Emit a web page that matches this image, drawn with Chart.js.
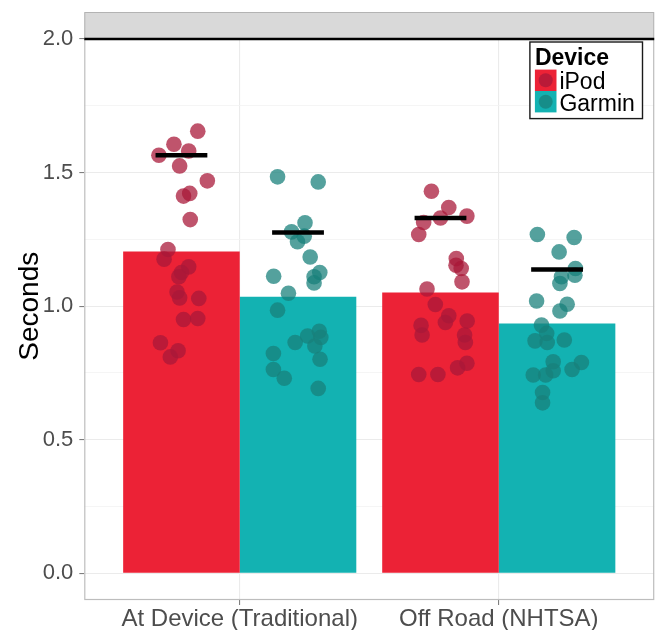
<!DOCTYPE html>
<html><head><meta charset="utf-8">
<script src="https://cdn.jsdelivr.net/npm/chart.js@4.4.1/dist/chart.umd.min.js"></script>
<style>html,body{margin:0;padding:0;background:#fff;}canvas{display:block;}</style>
</head><body>
<canvas id="c" width="662" height="630"></canvas>
<script>
// ---------- data ----------
const categories = ['At Device (Traditional)', 'Off Road (NHTSA)'];
const devices = ['iPod', 'Garmin'];
const barIpod = [1.205, 1.051];
const barGarmin = [1.035, 0.935];
const markIpod = [1.565, 1.330];
const markGarmin = [1.276, 1.137];
const refLine = 2.0;
const yMajorTicks = [0, 0.5, 1.0, 1.5, 2.0];
const yMinorTicks = [0.25, 0.75, 1.25, 1.75];
const yTitle = 'Seconds';
const legendTitle = 'Device';

// individual participants (seconds) and their horizontal jitter (category units)
const ipodAtDevice = [1.655,1.606,1.581,1.565,1.525,1.469,1.422,1.412,1.324,1.212,1.176,1.147,1.126,1.110,1.053,1.031,1.029,0.950,0.954,0.863,0.833,0.810];
const ipodAtDeviceJit = [0.063,-0.029,0.028,-0.087,-0.007,0.100,0.032,0.008,0.034,-0.052,-0.067,0.028,0.000,-0.010,-0.017,-0.007,0.067,0.008,0.063,-0.081,-0.013,-0.043];
const garminAtDevice = [1.484,1.465,1.312,1.278,1.262,1.241,1.184,1.126,1.112,1.110,1.087,1.048,0.985,0.906,0.888,0.883,0.864,0.851,0.823,0.801,0.763,0.730,0.692];
const garminAtDeviceJit = [-0.079,0.078,0.027,-0.025,0.024,-0.002,0.047,0.084,-0.094,0.062,0.062,-0.037,-0.079,0.082,0.037,0.088,-0.011,0.065,-0.095,0.085,-0.095,-0.053,0.078];
const ipodOffRoad = [1.430,1.369,1.330,1.337,1.313,1.268,1.178,1.153,1.141,1.091,1.064,1.006,0.964,0.939,0.944,0.928,0.892,0.892,0.864,0.786,0.769,0.744,0.744];
const ipodOffRoadJit = [-0.035,0.032,0.000,0.102,-0.065,-0.084,0.061,0.060,0.080,0.083,-0.052,-0.020,0.032,0.019,0.103,-0.075,-0.071,0.093,0.096,0.102,0.066,-0.084,-0.010];
const garminOffRoad = [1.268,1.257,1.203,1.141,1.116,1.110,1.085,1.019,1.007,0.982,0.929,0.898,0.870,0.864,0.873,0.792,0.789,0.763,0.758,0.742,0.742,0.677,0.638];
const garminOffRoadJit = [-0.076,0.066,0.008,0.071,0.069,0.017,0.011,-0.079,0.039,0.011,-0.060,-0.040,-0.085,-0.038,0.028,-0.015,0.094,0.058,-0.015,-0.092,-0.044,-0.056,-0.056];

// ---------- styles ----------
const FONT = "'Liberation Sans', Arial, Helvetica, sans-serif";
const barColors = ['rgb(236,34,54)', 'rgb(19,178,178)'];
const pointColors = ['rgba(168,24,56,0.74)', 'rgba(24,128,123,0.74)'];
const dodge = 0.225;
const markHalf = 0.1;

function center(cat, dev) { return cat + 1 + (dev === 0 ? -dodge : dodge); }
function pts(vals, jit, cat, dev) { return vals.map((v, i) => ({x: center(cat, dev) + jit[i], y: v})); }
function seg(y, cat, dev) { const c = center(cat, dev); return [{x: c - markHalf, y}, {x: c + markHalf, y}]; }

const datasets = [];
datasets.push({type:'bar', label:devices[0], data: categories.map((c,i)=>({x:i+1,y:barIpod[i]})), backgroundColor:barColors[0], order:4, grouped:true, categoryPercentage:0.9, barPercentage:1.0});
datasets.push({type:'bar', label:devices[1], data: categories.map((c,i)=>({x:i+1,y:barGarmin[i]})), backgroundColor:barColors[1], order:4, grouped:true, categoryPercentage:0.9, barPercentage:1.0});
const pointSets = [[ipodAtDevice, ipodAtDeviceJit, 0, 0],[garminAtDevice, garminAtDeviceJit, 0, 1],[ipodOffRoad, ipodOffRoadJit, 1, 0],[garminOffRoad, garminOffRoadJit, 1, 1]];
pointSets.forEach(([v,j,c,d]) => datasets.push({type:'scatter', data:pts(v,j,c,d), backgroundColor:pointColors[d], borderWidth:0, pointRadius:7.8, pointHoverRadius:7.8, order:3}));
[[markIpod,0],[markGarmin,1]].forEach(([arr,d]) => arr.forEach((y,c) => datasets.push({type:'line', data:seg(y,c,d), borderColor:'#000', borderWidth:4.5, pointRadius:0, borderCapStyle:'butt', order:2, clip:false})));
datasets.push({type:'line', data:[{x:0.4,y:refLine},{x:2.6,y:refLine}], borderColor:'#000', borderWidth:2.6, pointRadius:0, order:1, clip:false});

const yTicksAll = yMajorTicks.concat(yMinorTicks).sort((a,b)=>a-b);
const isMajor = v => yMajorTicks.some(t => Math.abs(t - v) < 1e-9);

const decor = {
  id: 'decor',
  beforeDatasetsDraw(chart) {
    const {ctx, chartArea: a} = chart;
    ctx.save();
    ctx.fillStyle = '#d9d9d9';
    ctx.fillRect(a.left, a.top - 26.5, a.right - a.left, 26.5);
    ctx.strokeStyle = '#b3b3b3'; ctx.lineWidth = 1;
    ctx.strokeRect(a.left + 0.5, a.top - 26.5, a.right - a.left - 1, 26.5);
    ctx.strokeStyle = '#bdbdbd'; ctx.lineWidth = 1.2;
    ctx.strokeRect(a.left + 0.5, a.top, a.right - a.left - 1, a.bottom - a.top - 0.5);
    ctx.translate(30, (a.top - 26.5 + a.bottom) / 2);
    ctx.rotate(-Math.PI / 2);
    ctx.fillStyle = '#000';
    ctx.font = '28px ' + FONT;
    ctx.textAlign = 'center'; ctx.textBaseline = 'middle';
    ctx.fillText(yTitle, 0, 0);
    ctx.restore();
  },
  afterDraw(chart) {
    const {ctx, chartArea: a} = chart;
    const L = a.right - 124.3, T = a.top + 3, W = 112.6, H = 76.6;
    ctx.save();
    ctx.fillStyle = '#fff'; ctx.fillRect(L, T, W, H);
    ctx.strokeStyle = '#1a1a1a'; ctx.lineWidth = 1.4; ctx.strokeRect(L, T, W, H);
    ctx.fillStyle = '#000';
    ctx.font = 'bold 23px ' + FONT; ctx.textAlign = 'left'; ctx.textBaseline = 'alphabetic';
    ctx.fillText(legendTitle, L + 5, T + 23);
    devices.forEach((d, i) => {
      const kx = L + 5, ky = T + 27.6 + i * 21.4;
      ctx.fillStyle = barColors[i]; ctx.fillRect(kx, ky, 21.6, 21.4);
      ctx.fillStyle = pointColors[i];
      ctx.beginPath(); ctx.arc(kx + 10.8, ky + 10.7, 7, 0, Math.PI * 2); ctx.fill();
      ctx.fillStyle = '#000'; ctx.font = '23px ' + FONT;
      ctx.fillText(d, kx + 24.5, ky + 19.5);
    });
    ctx.restore();
  }
};

new Chart(document.getElementById('c'), {
  type: 'bar',
  data: { datasets },
  plugins: [decor],
  options: {
    responsive: false, animation: false, events: [],
    layout: { padding: { top: 39, right: 6, left: 0, bottom: 0 } },
    plugins: { legend: { display: false }, tooltip: { enabled: false } },
    scales: {
      x: {
        type: 'linear', min: 0.4, max: 2.6, offset: false,
        afterBuildTicks: s => { s.ticks = categories.map((c, i) => ({value: i + 1})); },
        afterFit: s => { s.height = 30; },
        ticks: { callback: v => categories[Math.round(v) - 1], color: '#4d4d4d', font: {family: FONT, size: 24}, padding: 0, maxRotation: 0, autoSkip: false },
        grid: { offset: false, color: '#ebebeb', lineWidth: 1.1, tickColor: '#7f7f7f', tickLength: 5 },
        border: { display: false }
      },
      y: {
        type: 'linear', min: -0.1, max: 2.0,
        afterBuildTicks: s => { s.ticks = yTicksAll.map(v => ({value: v})); },
        afterFit: s => { s.width = 84.3; },
        ticks: { callback: v => isMajor(v) ? v.toFixed(1) : '', color: '#4d4d4d', font: {family: FONT, size: 22}, padding: 6, autoSkip: false },
        grid: { color: c => isMajor(c.tick.value) ? '#ebebeb' : '#f3f3f3', lineWidth: c => isMajor(c.tick.value) ? 1.1 : 0.8, tickColor: c => isMajor(c.tick.value) ? '#7f7f7f' : 'rgba(0,0,0,0)', tickLength: 5 },
        border: { display: false }
      }
    }
  }
});
</script>
</body></html>
